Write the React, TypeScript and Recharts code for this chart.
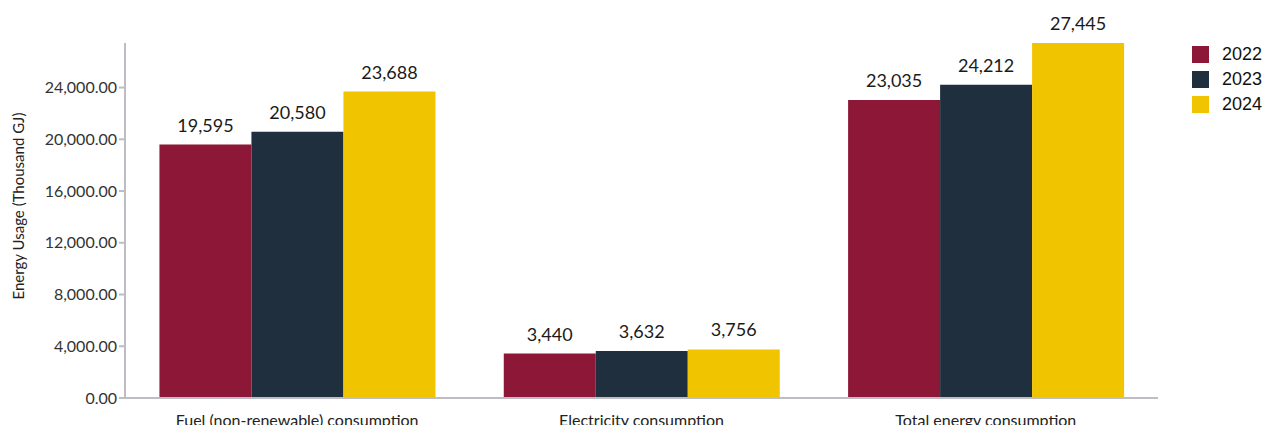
import React from "react";
import { BarChart, Bar, XAxis, YAxis, LabelList } from "recharts";

const categories = [
  "Fuel (non-renewable) consumption",
  "Electricity consumption",
  "Total energy consumption",
];
const years = ["2022", "2023", "2024"];
const values2022 = [19595, 3440, 23035];
const values2023 = [20580, 3632, 24212];
const values2024 = [23688, 3756, 27445];
const yTicks = [0, 4000, 8000, 12000, 16000, 20000, 24000];

const COLORS = ["#8C1737", "#1F2F3E", "#F1C400"];
const AXIS = "#BDBDC3";
const FONT = "Lato, 'Open Sans', sans-serif";

const data = categories.map((name, i) => ({
  name,
  "2022": values2022[i],
  "2023": values2023[i],
  "2024": values2024[i],
}));

const fmtTick = (v: number) =>
  v.toLocaleString("en-US", { minimumFractionDigits: 2, maximumFractionDigits: 2 });
const fmtLabel = (v: any) => Number(v).toLocaleString("en-US");

// year key, kept outside the svg so it doesn't eat into the plot width
function YearLegend() {
  return (
    <div
      style={{
        position: "absolute",
        left: 1192,
        top: 42,
        fontFamily: "'Liberation Sans', Arial, sans-serif",
        fontSize: 18,
        color: "#111",
      }}
    >
      {years.map((y, i) => (
        <div key={y} style={{ display: "flex", alignItems: "center", height: 25 }}>
          <span style={{ width: 17, height: 17, background: COLORS[i], marginRight: 13 }} />
          <span>{y}</span>
        </div>
      ))}
    </div>
  );
}

function AxisTitle() {
  return (
    <text
      x={18}
      y={206}
      transform="rotate(-90, 18, 206)"
      textAnchor="middle"
      dominantBaseline="central"
      fontFamily={FONT}
      fontSize={15}
      fill="#222"
    >
      Energy Usage (Thousand GJ)
    </text>
  );
}

export default function App() {
  return (
    <div style={{ position: "absolute", left: 0, top: 0, width: 1266, height: 425, background: "#fff" }}>
      <BarChart
        width={1266}
        height={425}
        data={data}
        margin={{ top: 43, right: 108, bottom: 0, left: 0 }}
        barCategoryGap="10%"
        barGap={0}
      >
        <XAxis
          dataKey="name"
          height={27}
          stroke={AXIS}
          strokeWidth={2}
          tickLine={false}
          tickMargin={11}
          tick={{ fontFamily: FONT, fontSize: 16, fill: "#222" }}
        />
        <YAxis
          width={125}
          domain={[0, "dataMax"]}
          ticks={yTicks}
          tickFormatter={fmtTick}
          stroke={AXIS}
          strokeWidth={2}
          tick={{ fontFamily: FONT, fontSize: 16, fill: "#333" }}
          label={<AxisTitle />}
        />
        {years.map((y, i) => (
          <Bar key={y} dataKey={y} fill={COLORS[i]} isAnimationActive={false}>
            <LabelList
              dataKey={y}
              position="top"
              offset={13}
              formatter={fmtLabel}
              style={{ fontFamily: FONT, fontSize: 18, fill: "#1a1a1a" }}
            />
          </Bar>
        ))}
      </BarChart>
      <YearLegend />
    </div>
  );
}
